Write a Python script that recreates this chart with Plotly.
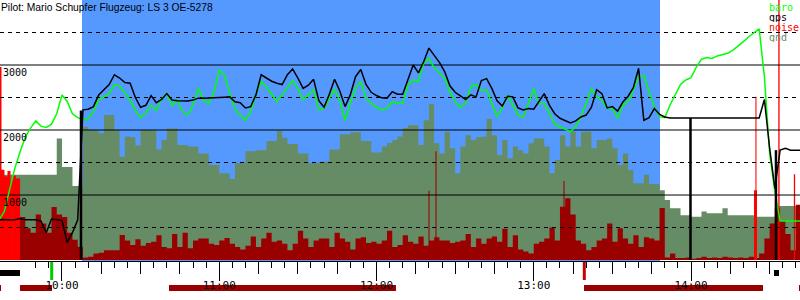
import plotly.graph_objects as go

TITLE = "Pilot: Mario Schupfer Flugzeug: LS 3 OE-5278"

# sampling clock of the logger (every 2 minutes from 09:36)
START = "09:36"
STEP_MIN = 2

BARO = [615, 750, 1080, 1410, 1660, 1890, 2030, 2140, 2060, 2040,
        2090, 2250, 2540, 2440, 2250, 2190, 2160, 2180, 2280, 2470,
        2510, 2560, 2700, 2680, 2570, 2460, 2300, 2190, 2270, 2380,
        2300, 2480, 2550, 2380, 2460, 2280, 2230, 2385, 2640, 2460,
        2410, 2590, 2920, 2845, 2565, 2320, 2230, 2150, 2280, 2550,
        2745, 2665, 2550, 2435, 2540, 2650, 2760, 2640, 2470, 2540,
        2615, 2310, 2330, 2490, 2630, 2450, 2150, 2420, 2640, 2745,
        2490, 2410, 2350, 2310, 2335, 2435, 2410, 2410, 2690, 2770,
        2745, 3025, 3100, 2960, 2880, 2795, 2590, 2435, 2350, 2410,
        2665, 2700, 2605, 2615, 2410, 2205, 2335, 2540, 2385, 2230,
        2195, 2410, 2640, 2400, 2410, 2255, 2090, 2050, 2010, 1975,
        2050, 2205, 2410, 2640, 2510, 2460, 2335, 2335, 2180, 2385,
        2435, 2615, 2830, 2830, 2590, 2350, 2205, 2190, 2385, 2550,
        2700, 2770, 2805, 2965, 3090, 3115, 3100, 3140, 3160, 3180,
        3230, 3290, 3360, 3435, 3500, 3555, 2820, 1640, 1050, 600,
        600, 600, 600, 600]

GPS = [620, 625, 615, 620, 640, 620, 620, 620, 600, 420,
       630, 620, 610, 270, 420, 620, 2310, 2320, 2360, 2540,
       2620, 2700, 2850, 2800, 2730, 2720, 2500, 2350, 2380, 2530,
       2420, 2470, 2560, 2460, 2450, 2445, 2445, 2460, 2490, 2490,
       2490, 2495, 2500, 2505, 2510, 2435, 2420, 2340, 2360, 2540,
       2850, 2800, 2750, 2720, 2700, 2850, 2940, 2800, 2640, 2690,
       2780, 2450, 2350, 2550, 2780, 2600, 2360, 2540, 2820, 2930,
       2700, 2580, 2530, 2495, 2490, 2590, 2550, 2550, 2760, 3000,
       2880, 3050, 3260, 3150, 3040, 2900, 2680, 2580, 2520, 2470,
       2540, 2510, 2760, 2790, 2640, 2450, 2370, 2520, 2510, 2340,
       2310, 2330, 2320, 2440, 2560, 2380, 2250, 2180, 2140, 2110,
       2140, 2200, 2230, 2350, 2620, 2560, 2340, 2360, 2290, 2430,
       2520, 2650, 2950, 2150, 2190, 2330, 2240, 2200, 2185, 2185,
       2185, 2185, 2185, 2185, 2185, 2185, 2185, 2185, 2185, 2185,
       2185, 2185, 2185, 2185, 2185, 2185, 2470, 1720, 1100, 1690,
       1720, 1690, 1690, 1690]

GND = [1310, 1310, 1310, 1310, 1310, 1310, 1310, 1310, 1310, 1310,
       1310, 1870, 1430, 1430, 1140, 1140, 2050, 2000, 2000, 1950,
       2230, 2230, 2000, 1590, 1900, 1890, 1760, 2000, 2000, 2000,
       1700, 1845, 2025, 2025, 1770, 1770, 1745, 1745, 1640, 1640,
       1460, 1460, 1335, 1335, 1245, 1490, 1490, 1675, 1675, 1690,
       1690, 1830, 1830, 1985, 1880, 1785, 1785, 1640, 1640, 1490,
       1490, 1510, 1510, 1700, 1700, 1935, 1935, 1965, 1965, 1830,
       1830, 1655, 1655, 1745, 1800, 1845, 1900, 2030, 2075, 2075,
       1770, 2150, 2400, 1795, 1640, 1975, 1720, 1335, 1745, 1920,
       1845, 1890, 1895, 2170, 1920, 1615, 1845, 1565, 1745, 1690,
       1640, 1795, 1870, 1870, 1745, 1335, 1540, 1920, 1745, 1975,
       1745, 1975, 1975, 1720, 1845, 1845, 1870, 1720, 1460, 1640,
       1385, 1180, 1180, 1310, 1170, 1170, 1075, 925, 795, 795,
       690, 690, 665, 665, 745, 720, 720, 720, 795, 690,
       690, 690, 690, 690, 665, 665, 665, 665, 830, 830,
       830, 830, 830, 830]

NOISE = [0, 0, 900, 1250, 660, 490, 420, 700, 560, 420,
         815, 700, 660, 420, 310, 205, 40, 50, 100, 110,
         150, 150, 150, 385, 300, 230, 320, 220, 260, 280,
         380, 200, 180, 400, 200, 420, 180, 300, 330, 330,
         250, 230, 300, 340, 250, 200, 160, 220, 360, 200,
         330, 420, 280, 300, 250, 150, 250, 450, 330, 200,
         300, 330, 330, 200, 420, 330, 280, 160, 330, 350,
         260, 280, 250, 300, 450, 200, 230, 380, 280, 250,
         360, 220, 300, 350, 300, 300, 260, 280, 300, 400,
         200, 330, 250, 330, 360, 280, 480, 200, 380, 160,
         130, 100, 250, 280, 330, 500, 300, 820, 950, 700,
         300, 250, 150, 200, 300, 330, 560, 280, 490, 330,
         250, 380, 200, 350, 330, 300, 800, 40, 100, 30,
         30, 40, 20, 30, 50, 30, 40, 30, 50, 40,
         30, 40, 30, 50, 30, 100, 330, 560, 800, 600,
         400, 150, 850, 615]

# isolated short noise spikes (dark red)
SPIKE_T = ["12:20:02", "12:22:42", "13:11:32"]
SPIKE_V = [1065, 1675, 1215]
SPIKE_W = [0.4, 0.4, 0.4]

# engine noise (bright red)
ENGINE_T = ["09:36:37", "09:37:29", "09:38:38", "09:39:47", "09:40:33", "09:41:41",
            "09:43:13", "14:24:36", "14:24:47", "14:32:25", "14:33:33", "14:39:29"]
ENGINE_V = [2970, 1390, 1290, 1370, 1180, 1300, 1250, 1075, 2510, 1350, 4000, 1320]
ENGINE_W = [0.6, 1.15, 1.15, 1.15, 0.8, 1.5, 1.5, 1.15, 0.4, 0.8, 0.5, 0.5]

# gps dropouts (altitude fell to zero for one fix)
DROP_T = ["10:07:15", "13:59:48", "14:32:25"]
DROP_V = [2300, 2185, 1690]

TASK = ("10:07:38", "13:48:10")
X_RANGE = ("09:36:21", "14:41:35")
HOURS = ["10:00", "11:00", "12:00", "13:00", "14:00"]
Y_LABELS = [1000, 2000, 3000]
GRID_MAJOR = [1000, 2000, 3000]
GRID_MINOR = [500, 1500, 2500, 3500]

BLACK_SPANS = [("09:36:21", "09:43:59"), ("14:31:40", "14:33:34")]
RED_SPANS = [("09:36:21", "09:36:44"), ("09:43:59", "09:56:11"), ("10:40:50", "12:07:26"),
             ("13:19:10", "14:27:28"), ("14:41:12", "14:41:35")]
TAKEOFF = "09:56:04"
MARK = "13:19:17"

BLUE = "#5599ff"
GND_C = "#668c66"
DARKRED = "#990000"
RED = "#ff0000"
GREEN = "#00ff00"
MONO = "DejaVu Sans Mono"

LEGEND = [("baro", GREEN), ("gps", "#000000"), ("noise", RED), ("gnd", GND_C)]

# lane geometry below the time axis (fractions of figure height)
LANE_BLACK = (24 / 300, 30 / 300)
LANE_RED = (9 / 300, 15 / 300)
LANE_TICK = (20 / 300, 38 / 300)


def tmin(s):
    p = [int(v) for v in s.split(":")]
    while len(p) < 3:
        p.append(0)
    return p[0] * 60 + p[1] + p[2] / 60.0


def bar_polys(ts, vs, ws):
    x, y = [], []
    for t, v, w in zip(ts, vs, ws):
        c = tmin(t)
        x += [c - w / 2, c - w / 2, c + w / 2, c + w / 2, None]
        y += [0, v, v, 0, None]
    return x, y


T0 = tmin(START)
TIMES = [T0 + STEP_MIN * i for i in range(len(BARO))]
X0, X1 = tmin(X_RANGE[0]), tmin(X_RANGE[1])

fig = go.Figure()

fig.add_shape(type="rect", xref="x", yref="y domain", x0=tmin(TASK[0]), x1=tmin(TASK[1]),
              y0=0, y1=1, fillcolor=BLUE, line_width=0, layer="below")

fig.add_trace(go.Scatter(x=TIMES, y=GND, mode="lines", line=dict(width=0, shape="hv"),
                         fill="tozeroy", fillcolor=GND_C, hoverinfo="skip"))
fig.add_trace(go.Scatter(x=TIMES, y=NOISE, mode="lines", line=dict(width=0, shape="hv"),
                         fill="tozeroy", fillcolor=DARKRED, hoverinfo="skip"))
sx, sy = bar_polys(SPIKE_T, SPIKE_V, SPIKE_W)
fig.add_trace(go.Scatter(x=sx, y=sy, mode="lines", line=dict(width=0), fill="toself",
                         fillcolor=DARKRED, hoverinfo="skip"))
ex, ey = bar_polys(ENGINE_T, ENGINE_V, ENGINE_W)
fig.add_trace(go.Scatter(x=ex, y=ey, mode="lines", line=dict(width=0), fill="toself",
                         fillcolor=RED, hoverinfo="skip"))

for v in GRID_MAJOR:
    fig.add_trace(go.Scatter(x=[X0, X1], y=[v, v], mode="lines",
                             line=dict(color="black", width=1), hoverinfo="skip"))
for v in GRID_MINOR:
    fig.add_trace(go.Scatter(x=[X0, X1], y=[v, v], mode="lines",
                             line=dict(color="black", width=1, dash="4px,4px"), hoverinfo="skip"))

fig.add_trace(go.Scatter(x=TIMES, y=BARO, mode="lines", line=dict(color=GREEN, width=1.5)))
fig.add_trace(go.Scatter(x=TIMES, y=GPS, mode="lines", line=dict(color="black", width=1.5)))

dx, dy = [], []
for t, v in zip(DROP_T, DROP_V):
    dx += [tmin(t), tmin(t), None]
    dy += [0, v, None]
fig.add_trace(go.Scatter(x=dx, y=dy, mode="lines", line=dict(color="black", width=2.5)))

# lanes under the time axis (drawn beneath the axis labels)
for spans, lane, col in [(BLACK_SPANS, LANE_BLACK, "black"), (RED_SPANS, LANE_RED, DARKRED)]:
    for a, b in spans:
        fig.add_shape(type="rect", xref="x", yref="paper", x0=tmin(a), x1=tmin(b),
                      y0=lane[0], y1=lane[1], fillcolor=col, line_width=0, layer="below")
for t, col in [(TAKEOFF, "#00cc00"), (MARK, "#cc0000")]:
    fig.add_shape(type="line", xref="x", yref="paper", x0=tmin(t), x1=tmin(t),
                  y0=LANE_TICK[0], y1=LANE_TICK[1], line=dict(color=col, width=3),
                  layer="below")

fig.add_trace(go.Scatter(x=[], y=[], xaxis="x3"))

fig.add_annotation(text=TITLE, xref="paper", yref="paper", x=0, y=1, xanchor="left",
                   yanchor="top", showarrow=False, xshift=-1,
                   font=dict(family="Liberation Sans", size=10.3, color="black"))
for k, (name, col) in enumerate(LEGEND):
    fig.add_annotation(text=name, xref="paper", yref="paper", x=768 / 800,
                       y=1 - (6.5 + 10 * k) / 300, xanchor="left", yanchor="middle",
                       showarrow=False, borderpad=0, height=10,
                       font=dict(family=MONO, size=10, color=col))

fig.update_layout(
    width=800, height=300, margin=dict(l=0, r=0, t=0, b=0),
    paper_bgcolor="white", plot_bgcolor="rgba(0,0,0,0)", showlegend=False,
    xaxis=dict(range=[X0, X1], anchor="y", showline=True, linecolor="black", linewidth=1,
               ticks="outside", tick0=0, dtick=15, ticklen=12, tickcolor="black", tickwidth=1,
               showticklabels=False, showgrid=False, zeroline=False,
               minor=dict(dtick=5, tick0=0, ticks="outside", ticklen=6, tickcolor="black",
                          tickwidth=1, showgrid=False)),
    xaxis3=dict(range=[X0, X1], overlaying="x", anchor="y", side="bottom",
                tickvals=[tmin(h) for h in HOURS], ticktext=HOURS, ticks="outside",
                ticklen=19, tickcolor="black", tickwidth=1, showgrid=False, zeroline=False,
                showline=False, ticklabelstandoff=-5,
                tickfont=dict(family=MONO, size=11, color="black")),
    yaxis=dict(domain=[0.13, 1], range=[-15, 4000], tickvals=Y_LABELS,
               ticktext=[str(v) for v in Y_LABELS], ticklabelposition="inside bottom",
               showgrid=False, zeroline=False, showline=False, ticks="",
               tickfont=dict(family=MONO, size=10, color="black")),
)

fig.write_html("out.html")
